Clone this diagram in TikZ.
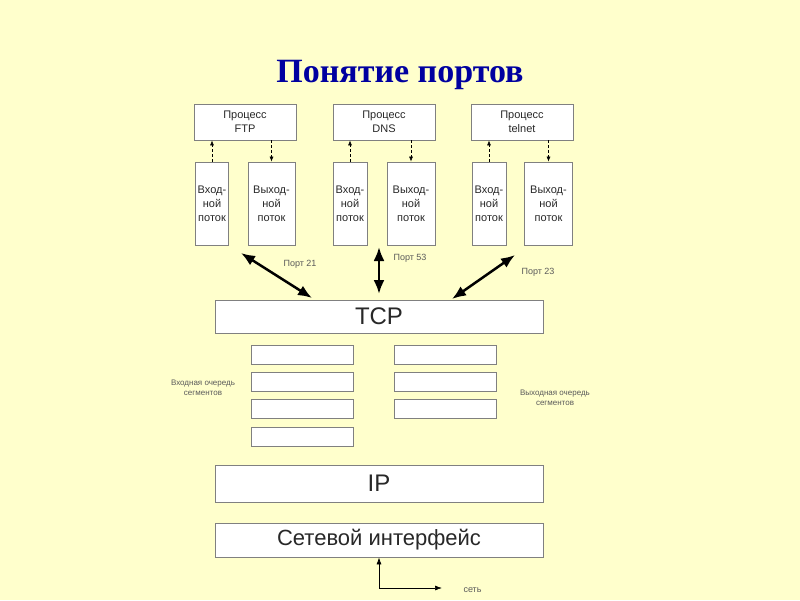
\documentclass[tikz,border=0pt]{standalone}
\usepackage{fontspec}
\setmainfont{Liberation Sans}
\newfontfamily\titlefont{Liberation Serif}
\usetikzlibrary{arrows.meta}
\definecolor{bgc}{RGB}{255,255,204}
\definecolor{titleblue}{RGB}{0,0,160}
\definecolor{boxline}{RGB}{128,128,128}
\definecolor{labgray}{RGB}{90,90,90}
\definecolor{boxtext}{RGB}{40,40,40}
\begin{document}
\begin{tikzpicture}[x=1pt,y=-1pt,
  box/.style={draw=boxline,fill=white,line width=0.8pt,inner sep=0pt,align=center,text=boxtext,font=\fontsize{11}{14}\selectfont},
  layer/.style={box,minimum width=328pt,font=\fontsize{24}{28}\selectfont},
  qbox/.style={draw=boxline,fill=white,line width=0.8pt,minimum width=102pt,minimum height=19pt,inner sep=0pt},
  bigarrow/.style={line width=2.5pt,{Latex[length=14pt,width=11pt]}-{Latex[length=14pt,width=11pt]}},
  smallarrow/.style={line width=0.6pt,densely dashed,-{Latex[length=5pt,width=4pt]}},
  portlab/.style={font=\fontsize{9}{11}\selectfont,text=labgray},
  qlab/.style={font=\fontsize{8}{10}\selectfont,text=labgray,align=center}]
\fill[bgc] (0,0) rectangle (800,600);
\useasboundingbox (0,0) rectangle (800,600);
% title
\node[font=\titlefont\fontsize{34}{40}\selectfont\bfseries,text=titleblue] (title) at (400,75) {Понятие портов};
% process boxes
\node[box,minimum width=102pt,minimum height=36pt] (pftp) at (245,122) {Процесс\\FTP};
\node[box,minimum width=102pt,minimum height=36pt] (pdns) at (384,122) {Процесс\\DNS};
\node[box,minimum width=102pt,minimum height=36pt] (ptel) at (522,122) {Процесс\\telnet};
% flow boxes
\node[box,minimum width=33pt,minimum height=83pt] (iftp) at (212,203.5) {Вход-\\ной\\поток};
\node[box,minimum width=47pt,minimum height=83pt] (oftp) at (271.5,203.5) {Выход-\\ной\\поток};
\node[box,minimum width=34pt,minimum height=83pt] (idns) at (350,203.5) {Вход-\\ной\\поток};
\node[box,minimum width=48pt,minimum height=83pt] (odns) at (411,203.5) {Выход-\\ной\\поток};
\node[box,minimum width=34pt,minimum height=83pt] (itel) at (489,203.5) {Вход-\\ной\\поток};
\node[box,minimum width=48pt,minimum height=83pt] (otel) at (548.5,203.5) {Выход-\\ной\\поток};
% small arrows
\draw[smallarrow] (iftp.north) -- (iftp.north |- pftp.south);
\draw[smallarrow] (oftp.north |- pftp.south) -- (oftp.north);
\draw[smallarrow] (idns.north) -- (idns.north |- pdns.south);
\draw[smallarrow] (odns.north |- pdns.south) -- (odns.north);
\draw[smallarrow] (itel.north) -- (itel.north |- ptel.south);
\draw[smallarrow] (otel.north |- ptel.south) -- (otel.north);
% TCP
\node[layer,minimum height=33pt] (tcp) at (379,316.5) {TCP};
\coordinate (aftp) at (241,253);
\coordinate (adns) at (379,247);
\coordinate (atel) at (515,255);
\draw[bigarrow] (aftp) -- (312,298);
\draw[bigarrow] (adns) -- (379,294);
\draw[bigarrow] (atel) -- (452,299);
\node[portlab] (l21) at (300,264) {Порт 21};
\node[portlab] (l53) at (410,258) {Порт 53};
\node[portlab] (l23) at (538,272) {Порт 23};
% queues
\node[qbox] (q1) at (302,354.5) {};
\node[qbox] (q2) at (302,381.5) {};
\node[qbox] (q3) at (302,408.5) {};
\node[qbox] (q4) at (302,436.5) {};
\node[qbox] (r1) at (445,354.5) {};
\node[qbox] (r2) at (445,381.5) {};
\node[qbox] (r3) at (445,408.5) {};
\node[qlab] (lin) at (203,388) {Входная очередь\\сегментов};
\node[qlab] (lout) at (555,398) {Выходная очередь\\сегментов};
% IP and interface
\node[layer,minimum height=37pt] (ip) at (379,483.5) {IP};
\node[layer,minimum height=34pt,font=\fontsize{22}{26}\selectfont] (ni) at (379,540) {Сетевой интерфейс};
% network
\coordinate (corner) at (379,588);
\coordinate (netend) at (442,588);
\draw[line width=0.7pt,-{Latex[length=7pt,width=5pt]}] (corner) -- (ni.south -| corner);
\draw[line width=0.7pt,-{Latex[length=7pt,width=5pt]}] (corner) -- (netend);
\node[font=\fontsize{9}{11}\selectfont,text=labgray,anchor=west] (net) at (460,590) {сеть};
\end{tikzpicture}
\end{document}
